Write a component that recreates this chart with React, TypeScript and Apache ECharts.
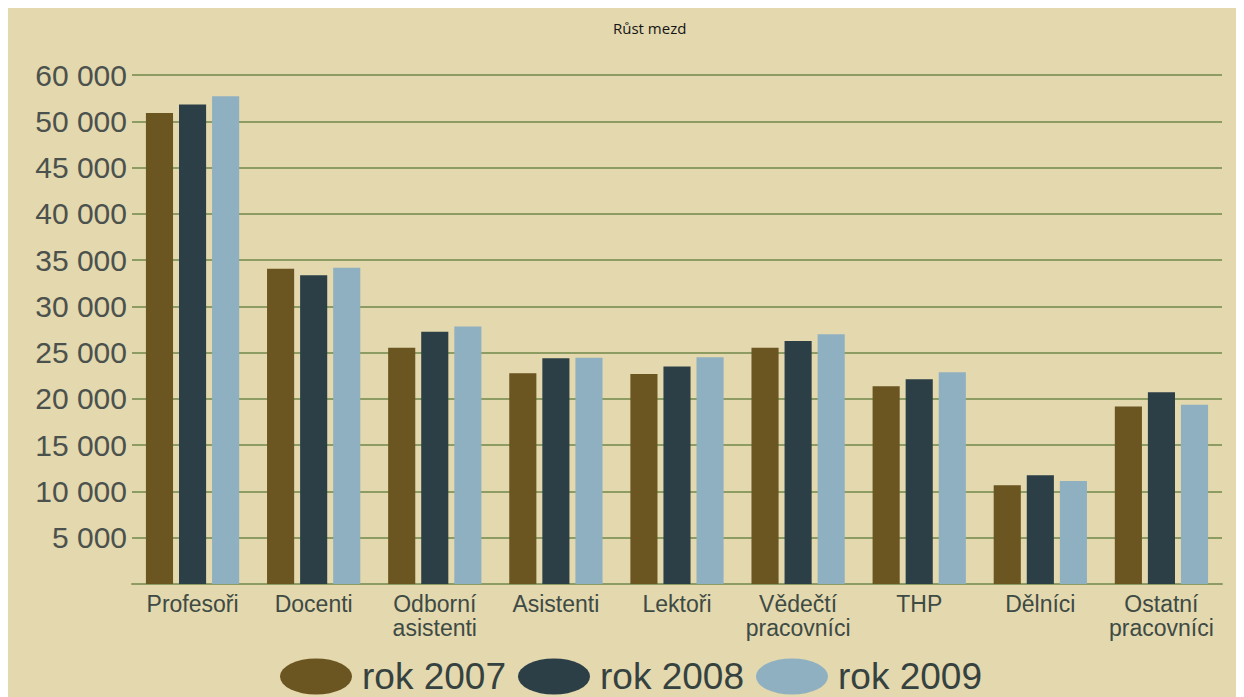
import React, { useEffect, useRef } from "react";
import * as echarts from "echarts";

const categories = [
  "Profesoři",
  "Docenti",
  "Odborní\nasistenti",
  "Asistenti",
  "Lektoři",
  "Vědečtí\npracovníci",
  "THP",
  "Dělníci",
  "Ostatní\npracovníci",
];

const rok2007 = [50900, 34060, 25530, 22770, 22700, 25530, 21370, 10660, 19190];
const rok2008 = [51800, 33350, 27250, 24380, 23500, 26250, 22120, 11740, 20730];
const rok2009 = [52700, 34170, 27820, 24460, 24500, 27000, 22880, 11130, 19370];

const seriesNames = ["rok 2007", "rok 2008", "rok 2009"];
const colors = ["#6b5521", "#2c3f47", "#8fb0c0"];

// top tick of the original axis is labelled "60 000"
const topTickLabel = "60 000";

const ellipse = "path://M0,10 A20,10 0 1,1 40,10 A20,10 0 1,1 0,10 Z";

export default function App() {
  const ref = useRef<HTMLDivElement>(null);

  useEffect(() => {
    if (!ref.current) return;
    const chart = echarts.init(ref.current, undefined, { renderer: "svg" });
    const data = [rok2007, rok2008, rok2009];
    chart.setOption({
      animation: false,
      backgroundColor: "#e3d8ae",
      title: {
        text: "Růst mezd",
        left: 600,
        top: 7,
        textStyle: {
          fontFamily: "Open Sans",
          fontSize: 15,
          fontWeight: "normal",
          color: "#151515",
        },
      },
      legend: {
        left: 267,
        top: 645,
        itemWidth: 82,
        itemHeight: 36,
        itemGap: 12,
        icon: ellipse,
        textStyle: {
          fontFamily: "Liberation Sans",
          fontSize: 37,
          color: "#36423f",
        },
        data: seriesNames,
      },
      grid: { left: 124, right: 22, top: 67, bottom: 113 },
      xAxis: {
        type: "category",
        data: categories,
        axisLine: { lineStyle: { color: "#8c9c62", width: 2 } },
        axisTick: { show: false },
        axisLabel: {
          interval: 0,
          margin: 8,
          fontFamily: "Liberation Sans",
          fontSize: 23,
          lineHeight: 24,
          color: "#3e4a44",
        },
      },
      yAxis: {
        type: "value",
        min: 0,
        max: 55000,
        interval: 5000,
        axisLine: { show: false },
        axisTick: { show: false },
        splitLine: { lineStyle: { color: "#8c9c62", width: 2 } },
        axisLabel: {
          showMinLabel: false,
          margin: 5,
          fontFamily: "Liberation Sans",
          fontSize: 30,
          color: "#4b514d",
          formatter: (v: number) =>
            v === 55000 ? topTickLabel : `${Math.round(v / 1000)} 000`,
        },
      },
      series: seriesNames.map((name, i) => ({
        name,
        type: "bar",
        data: data[i],
        barGap: "22%",
        barCategoryGap: "23%",
        itemStyle: { color: colors[i] },
      })),
    });
    return () => chart.dispose();
  }, []);

  return <div ref={ref} style={{ width: 1236, height: 689 }} />;
}
